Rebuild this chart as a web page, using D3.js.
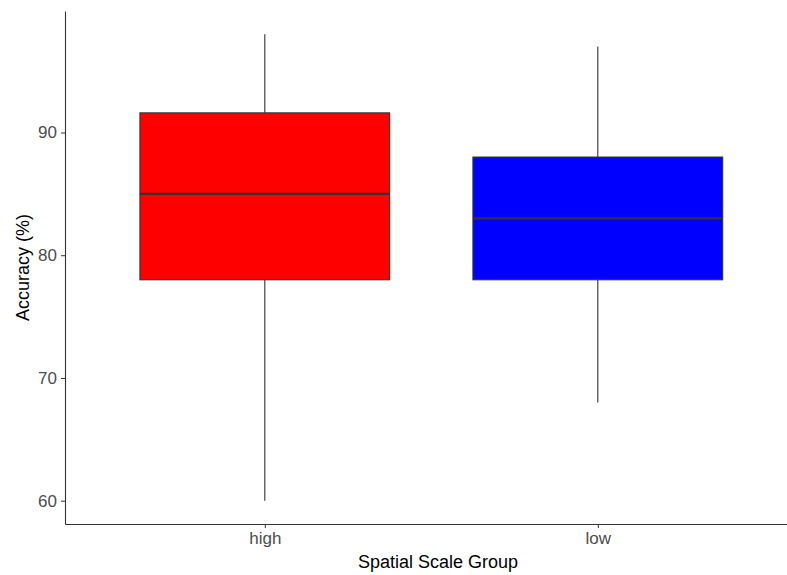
<!DOCTYPE html>
<html>
<head>
<meta charset="utf-8">
<title>Accuracy by Spatial Scale Group</title>
<script src="https://d3js.org/d3.v7.min.js"></script>
<style>
	body { margin: 0; background: #fff; }
	svg { display: block; font-family: "Liberation Sans", Arial, sans-serif; }
	.axis text { fill: #4d4d4d; font-size: 17px; }
	.axis path, .axis line { stroke: #333; }
</style>
</head>
<body>
<div id="chart"></div>
<script>
// box summaries
var groups = ["high", "low"];
var fills = ["#ff0000", "#0000ff"];
var whiskerLow = [60, 68];
var q1 = [78, 78];
var medians = [85, 83];
var q3 = [91.6, 88];
var whiskerHigh = [98, 97];
var yTicks = [60, 70, 80, 90];

var width = 787, height = 575;
var plotLeft = 65, plotTop = 11, plotBottom = 524;

var svg = d3.select("#chart").append("svg")
	.attr("width", width)
	.attr("height", height);

// y scale: data range with 5% padding like ggplot
var yMin = d3.min(whiskerLow), yMax = d3.max(whiskerHigh);
var pad = (yMax - yMin) * 0.05;
var y = d3.scaleLinear().domain([yMin - pad, yMax + pad]).range([plotBottom, plotTop]);

// discrete x positions 1..n with 0.6 expansion
var x = d3.scaleLinear().domain([0.4, groups.length + 0.6]).range([plotLeft, plotLeft + 2.2 * 333]);
var boxW = (x(1) - x(0)) * 0.75;

var data = groups.map(function(g, i) {
	return {name: g, pos: i + 1, fill: fills[i], lo: whiskerLow[i], q1: q1[i], med: medians[i], q3: q3[i], hi: whiskerHigh[i]};
});

var boxes = svg.append("g").selectAll("g").data(data).enter().append("g");

boxes.append("line")
	.attr("x1", function(d){ return x(d.pos); })
	.attr("x2", function(d){ return x(d.pos); })
	.attr("y1", function(d){ return y(d.hi); })
	.attr("y2", function(d){ return y(d.q3); })
	.attr("stroke", "#333").attr("stroke-width", 1.1);

boxes.append("line")
	.attr("x1", function(d){ return x(d.pos); })
	.attr("x2", function(d){ return x(d.pos); })
	.attr("y1", function(d){ return y(d.q1); })
	.attr("y2", function(d){ return y(d.lo); })
	.attr("stroke", "#333").attr("stroke-width", 1.1);

boxes.append("rect")
	.attr("x", function(d){ return x(d.pos) - boxW / 2; })
	.attr("width", boxW)
	.attr("y", function(d){ return y(d.q3); })
	.attr("height", function(d){ return y(d.q1) - y(d.q3); })
	.attr("fill", function(d){ return d.fill; })
	.attr("stroke", "#333").attr("stroke-width", 1.1);

boxes.append("line")
	.attr("x1", function(d){ return x(d.pos) - boxW / 2; })
	.attr("x2", function(d){ return x(d.pos) + boxW / 2; })
	.attr("y1", function(d){ return y(d.med); })
	.attr("y2", function(d){ return y(d.med); })
	.attr("stroke", "#333").attr("stroke-width", 2.2);

// axes
var yAxis = d3.axisLeft(y).tickValues(yTicks).tickSize(4).tickPadding(4).tickSizeOuter(0);
svg.append("g").attr("class", "axis")
	.attr("transform", "translate(" + plotLeft + ",0)")
	.call(yAxis)
	.call(function(g){ g.select(".domain").attr("stroke-width", 1.1); });

var xAxis = d3.axisBottom(x).tickValues([1, 2])
	.tickFormat(function(d){ return groups[d - 1]; })
	.tickSize(4).tickPadding(4).tickSizeOuter(0);
svg.append("g").attr("class", "axis")
	.attr("transform", "translate(0," + plotBottom + ")")
	.call(xAxis)
	.call(function(g){ g.select(".domain").attr("stroke-width", 1.1); });

// axis titles
svg.append("text")
	.attr("x", 438)
	.attr("y", 568)
	.attr("text-anchor", "middle")
	.attr("font-size", 18)
	.attr("fill", "#000")
	.text("Spatial Scale Group");

svg.append("text")
	.attr("transform", "translate(29," + ((plotTop + plotBottom) / 2) + ") rotate(-90)")
	.attr("text-anchor", "middle")
	.attr("font-size", 18)
	.attr("fill", "#000")
	.text("Accuracy (%)");
</script>
</body>
</html>
